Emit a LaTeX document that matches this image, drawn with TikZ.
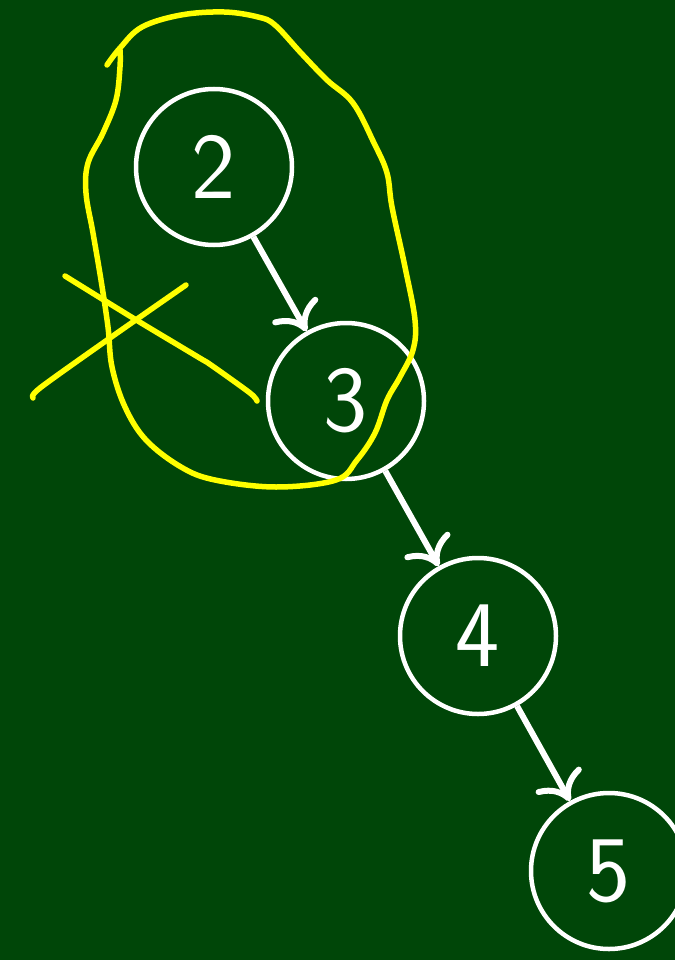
\documentclass[tikz,border=0pt]{standalone}
\usepackage{fontspec}
\usetikzlibrary{arrows.meta}
\definecolor{bg}{RGB}{0,70,8}
\definecolor{hl}{RGB}{255,255,0}
\tikzset{
  listnode/.style={circle, draw=white, line width=4.5pt, minimum size=156pt, inner sep=0pt,
    text=white, font=\sffamily\fontsize{94}{94}\selectfont},
  link/.style={draw=white, line width=6pt, -{Computer Modern Rightarrow[length=26pt,width=52pt]}},
  marker/.style={draw=hl, line width=5.5pt, line cap=round, line join=round}
}
\begin{document}
\begin{tikzpicture}[x=1pt,y=-1pt]
\fill[bg] (0,0) rectangle (675,960);
\useasboundingbox (0,0) rectangle (675,960);
\node[listnode] (n2) at (214,167) {2};
\node[listnode] (n3) at (346,401) {3};
\node[listnode] (n4) at (478,636) {4};
\node[listnode] (n5) at (609,871) {5};
\draw[link] (n2) -- (n3);
\draw[link] (n3) -- (n4);
\draw[link] (n4) -- (n5);
% yellow loop
\draw[marker] plot[smooth, tension=0.6] coordinates {
 (107,65) (120,48) (142,27) (181,15) (224,12) (258,17) (275,25) (301,53) (327,80)
 (353,103) (374,143) (387,173) (392,207) (405,267) (415,320) (413,350) (400,377)
 (387,400) (375,433) (357,460) (336,480) (276,487) (215,480) (181,467) (146,440)
 (125,407) (112,367) (108,327) (101,280) (93,233) (86,193) (88,163) (103,133)
 (116,100) (120,67) (120,50)};
% cross
\draw[marker] plot[smooth, tension=0.5] coordinates {
 (65,276) (133,318) (198,357) (211,365) (250,393) (257,401)};
\draw[marker] plot[smooth, tension=0.5] coordinates {
 (186,285) (110,338) (40,388) (33,398)};
\end{tikzpicture}
\end{document}
